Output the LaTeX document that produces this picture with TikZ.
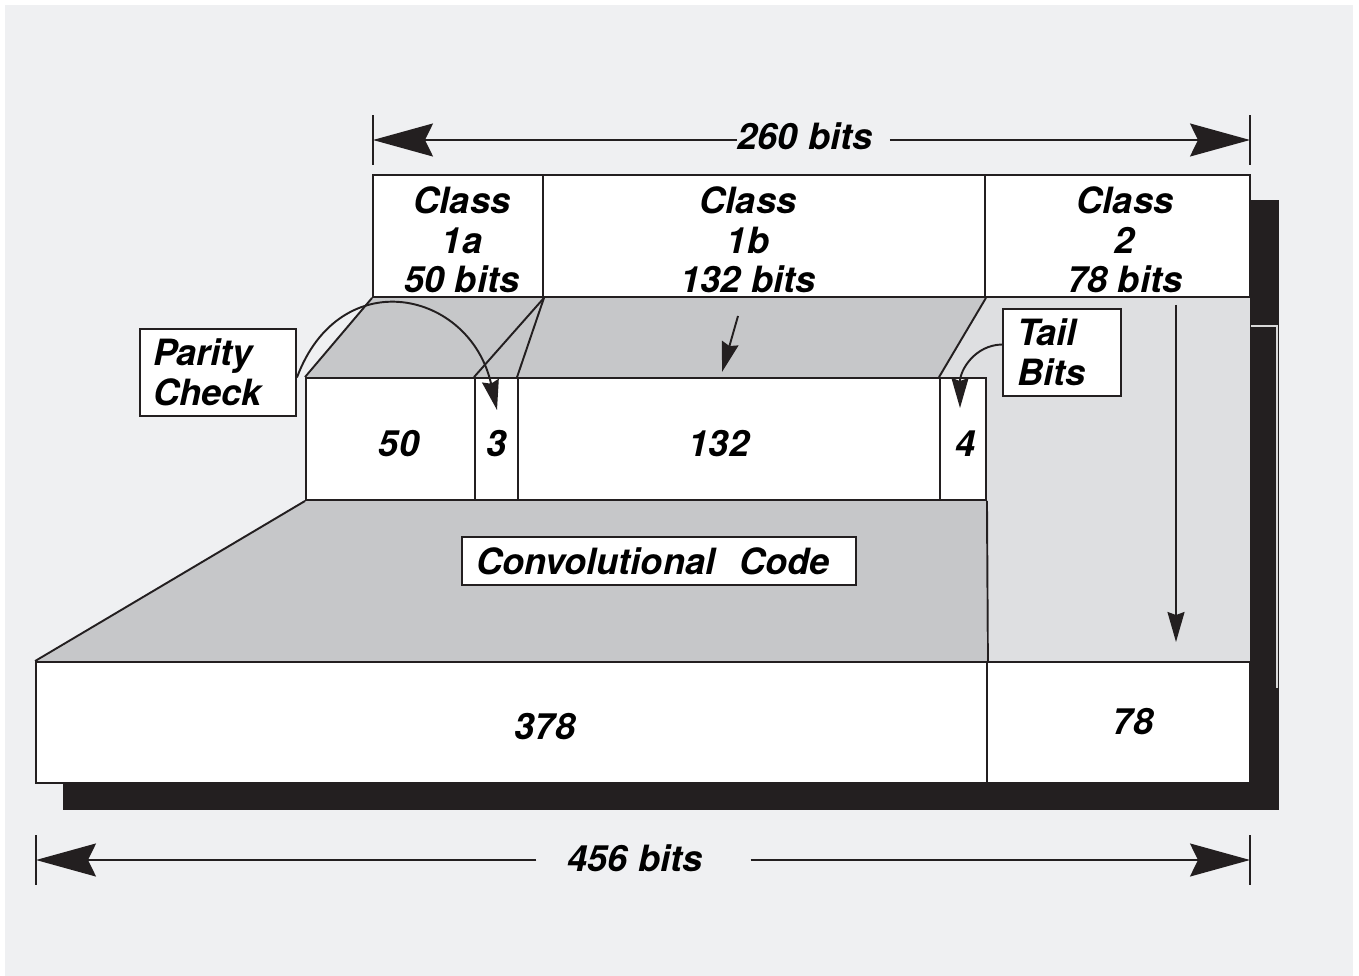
\documentclass[tikz,border=0pt]{standalone}
\usepackage{fontspec}
\setmainfont{TeX Gyre Heros}
\usetikzlibrary{arrows.meta}
\definecolor{bggray}{HTML}{EFF0F2}
\definecolor{darkfill}{HTML}{C6C7C9}
\definecolor{lightfill}{HTML}{DEDFE1}
\definecolor{inkblack}{HTML}{231F20}
\tikzset{
  cell/.style={draw=inkblack, fill=white, line width=1.1pt, inner sep=0pt, minimum height=2.44cm},
  txt/.style={align=center, inner sep=0pt},
  tag/.style={draw=inkblack, fill=white, line width=1.1pt, align=left, inner ysep=0pt},
  edge/.style={draw=inkblack, line width=1.1pt},
  dimline/.style={draw=inkblack, line width=1.1pt, -{Stealth[length=1.2cm, width=0.66cm, inset=0.16cm]}},
  tick/.style={draw=inkblack, line width=1.6pt},
  pointer/.style={draw=inkblack, line width=1.1pt, -{Stealth[length=0.6cm, width=0.34cm, inset=0.06cm]}},
}

\begin{document}
\begin{tikzpicture}[x=0.02cm, y=-0.02cm, font=\fontsize{20.6}{22.5}\selectfont\bfseries\itshape]
    % Background
    \fill[white] (0,0) rectangle (1359,976);
    \fill[bggray] (5,5) rectangle (1353,976);
    \useasboundingbox (0,0) rectangle (1359,976);

    % Shadow
    \fill[inkblack] (1250,200) rectangle (1279,810);
    \fill[inkblack] (63,783) rectangle (1279,810);
    \draw[gray!30, line width=0.6pt] (1251,326) -- (1277,326) -- (1277,688);

    % Gray bands
    \fill[lightfill] (940,297) rectangle (1250,662);
    \fill[darkfill] (373,297) -- (985,297) -- (940,378) -- (306,378) -- cycle;
    \fill[darkfill] (306,500) -- (986,500) -- (986,662) -- (36,662) -- cycle;

    % Speech frame: 260 bits
    \node[cell, minimum width=3.4cm] (c1a) at (458,236) {};
    \node[cell, minimum width=8.84cm] (c1b) at (764,236) {};
    \node[cell, minimum width=5.3cm] (c2) at (1117.5,236) {};
    \node[txt] (t1a) at (462,240) {Class\\1a\\50 bits};
    \node[txt] (t1b) at (748,240) {Class\\1b\\132 bits};
    \node[txt] (t2) at (1125,240) {Class\\2\\78 bits};

    % Before coding
    \node[cell, minimum width=3.38cm] (m50) at (390.5,439) {};
    \node[cell, minimum width=0.86cm] (m3) at (496.5,439) {};
    \node[cell, minimum width=8.44cm] (m132) at (729,439) {};
    \node[cell, minimum width=0.92cm] (m4) at (963,439) {};
    \node[txt] (n50) at (399,444) {50};
    \node[txt] (n3) at (497,444) {3};
    \node[txt] (n132) at (719,444) {132};
    \node[txt] (n4) at (966,444) {4};

    % Coded frame: 456 bits
    \node[cell, minimum width=19.02cm, minimum height=2.42cm] (b378) at (511.5,722.5) {};
    \node[cell, minimum width=5.26cm, minimum height=2.42cm] (b78) at (1118.5,722.5) {};
    \node[txt] (n378) at (545,727) {378};
    \node[txt] (n78) at (1133,722) {78};

    % Band edges
    \draw[edge] (c1a.south west) -- (m50.north west);
    \draw[edge] (c1b.south east) -- (m4.north west);
    \draw[edge] (c1a.south east) -- (m3.north west);
    \draw[edge] (c1a.south east) -- (m132.north west);
    \draw[edge] (m50.south west) -- (b378.north west);
    \draw[edge] (m4.south east) -- (b378.north east);

    % Labels
    \node[tag, text width=2.6cm, inner xsep=0.26cm, minimum height=1.74cm] (parity) at (218,372.5) {Parity\\Check};
    \node[tag, text width=1.8cm, inner xsep=0.28cm, minimum height=1.74cm] (tail) at (1062,352.5) {Tail\\Bits};
    \node[tag, text width=7.32cm, inner xsep=0.28cm, minimum height=0.96cm] (conv) at (659,561) {Convolutional\ \ Code};

    % Pointers
    \coordinate (pc) at (497,410);
    \coordinate (tb) at (960,408);
    \coordinate (s1b) at (738,316);
    \coordinate (e1b) at (722,372);
    \coordinate (s2) at (1176,305);
    \coordinate (e2) at (1176,642);
    \draw[pointer] ([yshift=-0.1cm]parity.east) .. controls (340,262) and (470,290) .. (pc);
    \draw[pointer] ([yshift=0.16cm]tail.west) .. controls (975,345) and (960,370) .. (tb);
    \draw[pointer] (s1b) -- (e1b);
    \draw[pointer] (s2) -- (e2);

    % Dimension lines
    \coordinate (l260) at (373,140);
    \coordinate (r260) at (1250,140);
    \node[inner sep=0pt] (t260) at (805,136) {260 bits};
    \draw[dimline] (t260.west |- l260) -- (l260);
    \draw[dimline] ([xshift=0.34cm]t260.east |- r260) -- (r260);
    \draw[tick] ([yshift=0.5cm]l260) -- ([yshift=-0.5cm]l260);
    \draw[tick] ([yshift=0.5cm]r260) -- ([yshift=-0.5cm]r260);

    \coordinate (l456) at (36,860);
    \coordinate (r456) at (1250,860);
    \node[inner sep=0pt] (t456) at (635,858) {456 bits};
    \draw[dimline] ([xshift=-0.62cm]t456.west |- l456) -- (l456);
    \draw[dimline] ([xshift=0.96cm]t456.east |- r456) -- (r456);
    \draw[tick] ([yshift=0.5cm]l456) -- ([yshift=-0.5cm]l456);
    \draw[tick] ([yshift=0.5cm]r456) -- ([yshift=-0.5cm]r456);
\end{tikzpicture}
\end{document}
